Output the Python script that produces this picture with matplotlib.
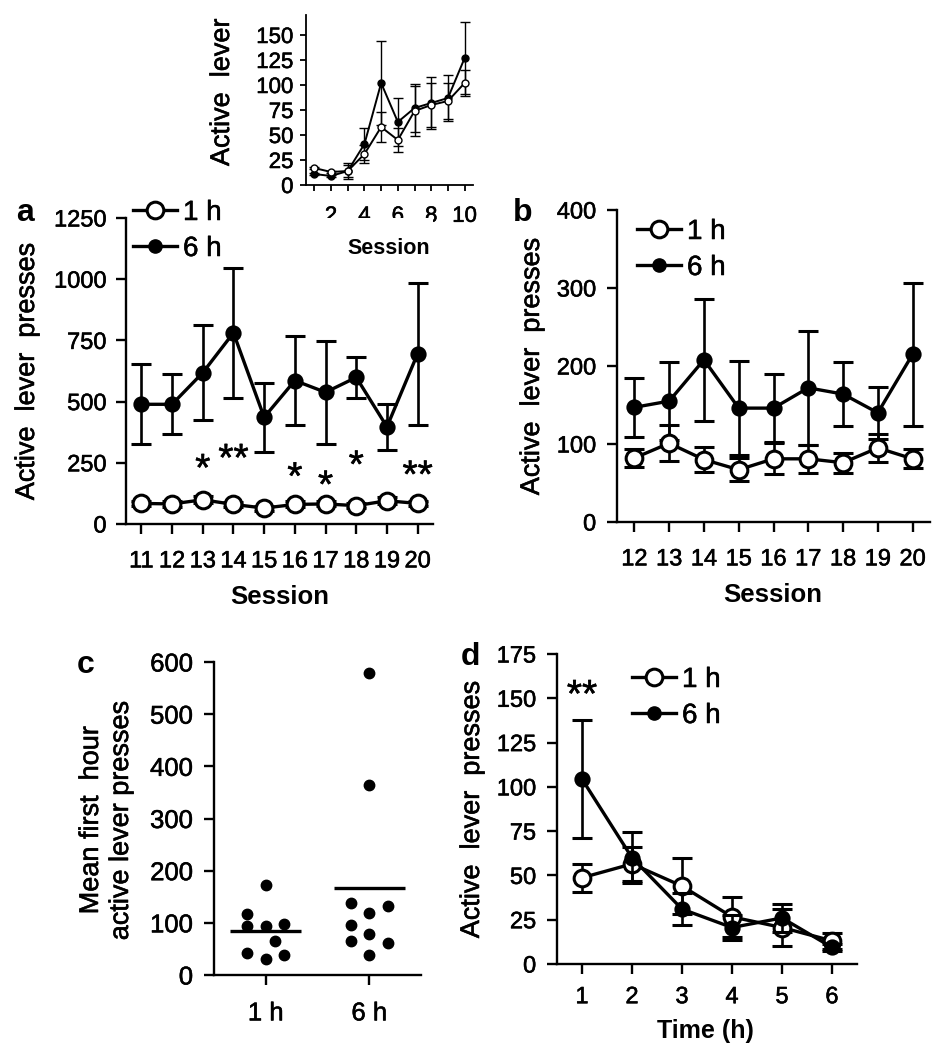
import numpy as np
import matplotlib
matplotlib.use("Agg")
import matplotlib.pyplot as plt
import matplotlib.patheffects as pe
from matplotlib.lines import Line2D
from matplotlib.text import Text

plt.rcParams['font.family'] = ['Liberation Sans', 'DejaVu Sans']

# inset: sessions 1-10
sess_early = [1, 2, 3, 4, 5, 6, 7, 8, 9, 10]
early_1h = [17, 13, 14, 31, 58, 45, 74, 80, 84, 102]
early_1h_err = [1, 1, 6, 9, 15, 12, 25, 22, 18, 13]
early_6h = [11, 9, 14, 41, 102, 63, 77, 82, 87, 127]
early_6h_err = [1, 1, 8, 16, 42, 24, 24, 26, 23, 36]

# panel a: sessions 11-20
sess_a = [11, 12, 13, 14, 15, 16, 17, 18, 19, 20]
a_1h = [84, 82, 99, 80, 65, 80, 82, 75, 95, 84]
a_1h_err = [10, 12, 15, 10, 10, 12, 10, 10, 15, 10]
a_6h = [489, 489, 618, 781, 436, 586, 538, 599, 397, 696]
a_6h_err = [163, 123, 195, 265, 140, 180, 210, 85, 95, 290]
a_star_sess = [13, 14, 16, 17, 18, 20]
a_star_y = [262, 303, 228, 194, 276, 235]
a_star_txt = ['*', '**', '*', '*', '*', '**']

# panel b: sessions 12-20
sess_b = [12, 13, 14, 15, 16, 17, 18, 19, 20]
b_1h = [82, 101, 80, 67, 81, 81, 76, 95, 81]
b_1h_err = [11, 23, 16, 15, 20, 18, 13, 18, 12]
b_6h = [147, 155, 208, 146, 146, 172, 164, 140, 215]
b_6h_err = [38, 50, 78, 60, 44, 73, 41, 33, 92]

# panel c: individual rats, mean first hour
c_groups = ['1 h', '6 h']
c_1h = [173, 116, 93, 93, 98, 66, 43, 30, 39]
c_6h = [578, 365, 138, 132, 118, 95, 79, 66, 62, 39]
c_1h_col = [0, -1, -1, 0, 1, 0.5, -1, 0, 1]
c_6h_col = [0, 0, -1, 1, 0, -1, 0, -1, 1, 0]

# panel d: hourly time course
hours = [1, 2, 3, 4, 5, 6]
d_1h = [48.7, 56.5, 44, 26.6, 20.6, 13.1]
d_1h_err = [8, 9.5, 16, 11.4, 10.3, 4.5]
d_6h = [104.4, 60, 31, 20.6, 26, 9.4]
d_6h_err = [33.5, 14.5, 9, 7, 8, 2]

W, H = 941, 1050
fig = plt.figure(figsize=(W / 100, H / 100), dpi=100)


def add_ax(l, t, r, b):
    return fig.add_axes([l / W, 1 - b / H, (r - l) / W, (b - t) / H])


def put(x, y, s, **kw):
    fig.text(x / W, 1 - y / H, s, **kw)


def style(ax, fs=17, lw=1.7, tl=7, xpad=12, ypad=7):
    for side in ['top', 'right']:
        ax.spines[side].set_visible(False)
    for side in ['left', 'bottom']:
        ax.spines[side].set_linewidth(lw)
    ax.tick_params(direction='out', length=tl, width=lw, labelsize=fs)
    ax.tick_params(axis='x', pad=xpad)
    ax.tick_params(axis='y', pad=ypad)


def series(ax, x, y, err, filled, big=True, z=3):
    if big:
        ms = 9.5 if filled else 12
        kw = dict(lw=2.4, elinewidth=1.9, capsize=7.5, capthick=1.9, mew=2.2)
    else:
        ms = 5
        kw = dict(lw=1.4, elinewidth=1.0, capsize=3.6, capthick=1.0, mew=1.0)
    ax.errorbar(x, y, yerr=err, fmt='-o', color='black', ms=ms,
                mfc='black' if filled else 'white', mec='black',
                zorder=z, clip_on=False, **kw)


def legend(ax, x, y):
    h1 = Line2D([], [], color='black', lw=2.4, marker='o', ms=12,
                mfc='white', mec='black', mew=2.2)
    h6 = Line2D([], [], color='black', lw=2.4, marker='o', ms=9.5,
                mfc='black', mec='black')
    ax.legend([h1, h6], ['1 h', '6 h'], loc='upper left',
              bbox_to_anchor=(x / W, 1 - y / H), bbox_transform=fig.transFigure,
              frameon=False, fontsize=20, handlelength=1.6, handletextpad=0.2,
              labelspacing=0.36, borderpad=0, borderaxespad=0, numpoints=1)


# inset
ins = add_ax(306, 15, 473, 185)
series(ins, sess_early, early_6h, early_6h_err, True, big=False, z=3)
series(ins, sess_early, early_1h, early_1h_err, False, big=False, z=4)
ins.set_xlim(0.5, 10.5)
ins.set_ylim(0, 170)
ins.set_xticks(sess_early)
ins.set_xticklabels([str(s) if s % 2 == 0 else '' for s in sess_early])
ins.set_yticks(np.arange(0, 151, 25))
style(ins, fs=16, lw=1.3, tl=4, xpad=11, ypad=5)
put(222, 92, 'Active  lever', rotation=90, ha='center', va='center',
    rotation_mode='anchor', fontsize=19.5)
put(389, 249, 'Session', ha='center', va='center', fontsize=15.5,
    fontweight='bold')

# panel a
ax_a = add_ax(126, 218, 433, 524)
series(ax_a, sess_a, a_6h, a_6h_err, True, z=3)
series(ax_a, sess_a, a_1h, a_1h_err, False, z=4)
ax_a.set_xlim(10.5, 20.5)
ax_a.set_ylim(0, 1250)
ax_a.set_xticks(sess_a)
ax_a.set_yticks(np.arange(0, 1251, 250))
style(ax_a)
for s, yv, t in zip(a_star_sess, a_star_y, a_star_txt):
    ax_a.annotate(t, (s, yv), xytext=(0, -15), textcoords='offset points',
                  ha='center', va='baseline', fontsize=28)
legend(ax_a, 133, 200)
put(25, 213, 'a', ha='center', va='center', fontsize=23, fontweight='bold')
put(27, 371, 'Active  lever  presses', rotation=90, ha='center',
    va='center', rotation_mode='anchor', fontsize=19.5)
put(280, 597, 'Session', ha='center', va='center', fontsize=18.5,
    fontweight='bold')

# panel b
ax_b = add_ax(617, 210, 930, 522)
series(ax_b, sess_b, b_6h, b_6h_err, True, z=3)
series(ax_b, sess_b, b_1h, b_1h_err, False, z=4)
ax_b.set_xlim(11.5, 20.5)
ax_b.set_ylim(0, 400)
ax_b.set_xticks(sess_b)
ax_b.set_yticks(np.arange(0, 401, 100))
style(ax_b, ypad=8)
legend(ax_b, 637, 219)
put(523, 213, 'b', ha='center', va='center', fontsize=23, fontweight='bold')
put(532, 366, 'Active  lever  presses', rotation=90, ha='center',
    va='center', rotation_mode='anchor', fontsize=19.5)
put(773, 595, 'Session', ha='center', va='center', fontsize=18.5,
    fontweight='bold')

# panel c
ax_c = add_ax(214, 662, 421, 975)
for i, (vals, col) in enumerate([(c_1h, c_1h_col), (c_6h, c_6h_col)]):
    xpos = i + 1 + 0.18 * np.array(col)
    ax_c.plot(xpos, vals, 'o', color='black', ms=7.5, clip_on=False)
    ax_c.hlines(np.mean(vals), i + 1 - 0.345, i + 1 + 0.345, color='black',
                lw=2.4)
ax_c.set_xlim(0.5, 2.5)
ax_c.set_ylim(0, 600)
ax_c.set_xticks([1, 2])
ax_c.set_xticklabels(c_groups)
ax_c.set_yticks(np.arange(0, 601, 100))
style(ax_c, fs=18.5, ypad=8)
put(86, 665, 'c', ha='center', va='center', fontsize=23, fontweight='bold')
put(106, 820, 'Mean first  hour\nactive lever presses', rotation=90,
    ha='center', va='center', rotation_mode='anchor', fontsize=19.5,
    linespacing=1.2)

# panel d
ax_d = add_ax(557, 654, 857, 964)
series(ax_d, hours, d_1h, d_1h_err, False, z=3)
series(ax_d, hours, d_6h, d_6h_err, True, z=4)
ax_d.set_xlim(0.5, 6.5)
ax_d.set_ylim(0, 175)
ax_d.set_xticks(hours)
ax_d.set_yticks(np.arange(0, 176, 25))
style(ax_d, ypad=8, xpad=9)
ax_d.annotate('**', (1, 157), xytext=(0, -15), textcoords='offset points',
              ha='center', va='baseline', fontsize=28)
legend(ax_d, 632, 667)
put(470, 657, 'd', ha='center', va='center', fontsize=23, fontweight='bold')
put(472, 809, 'Active  lever  presses', rotation=90, ha='center',
    va='center', rotation_mode='anchor', fontsize=19.5)
put(705, 1031, 'Time (h)', ha='center', va='center', fontsize=18,
    fontweight='bold')

# the scanned figure has slightly heavy lettering
fig.canvas.draw()
for t in fig.findobj(Text):
    if t.get_text() and t.get_fontweight() not in ('bold', 700):
        t.set_path_effects([pe.withStroke(linewidth=0.4, foreground='black')])

fig.savefig('out.png', dpi=100)
